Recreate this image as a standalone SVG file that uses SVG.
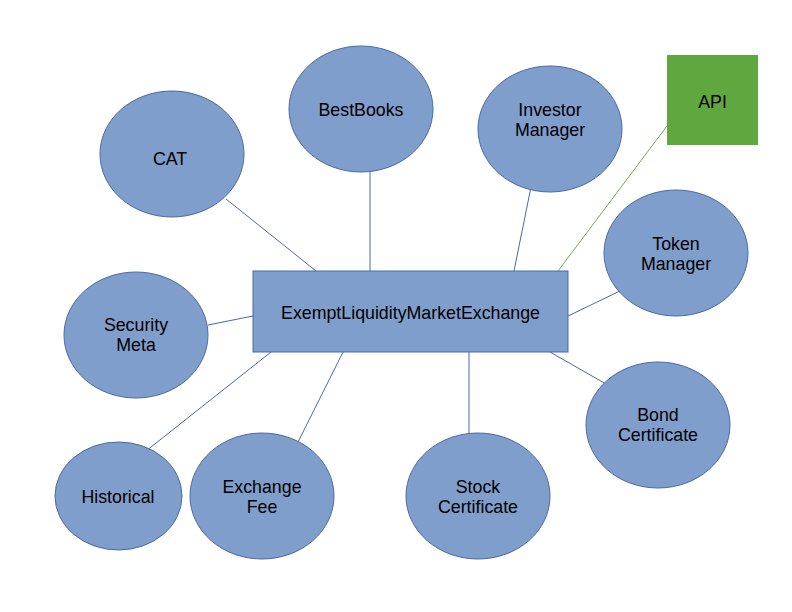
<svg xmlns="http://www.w3.org/2000/svg" width="792" height="612" viewBox="0 0 792 612">
<style>
.n{fill:#7f9ecb;stroke:#4a6aa5;stroke-width:1}
.t{font-family:"Liberation Sans",Arial,sans-serif;font-size:17.8px;fill:#000;text-anchor:middle}
.c{stroke:#4a6aa5;stroke-width:1;fill:none}
.g{stroke:#6ab04a;stroke-width:1;fill:none}
</style>
<rect width="792" height="612" fill="#fff"/>
<g id="connectors">
<line class="c" x1="226" y1="199" x2="316" y2="271"/>
<line class="c" x1="370" y1="172" x2="370" y2="271"/>
<line class="c" x1="532" y1="182" x2="514" y2="271"/>
<line class="g" x1="667" y1="126" x2="558" y2="271"/>
<line class="c" x1="622" y1="290" x2="568" y2="316"/>
<line class="c" x1="208" y1="325" x2="253" y2="316"/>
<line class="c" x1="146" y1="451" x2="271" y2="352"/>
<line class="c" x1="298" y1="442" x2="343" y2="352"/>
<line class="c" x1="469" y1="352" x2="469" y2="451"/>
<line class="c" x1="550" y1="352" x2="613" y2="388"/>
</g>
<g id="exchange">
<rect class="n" x="253" y="271" width="315" height="81"/>
<text class="t" x="410.5" y="319">ExemptLiquidityMarketExchange</text>
</g>
<g id="api">
<rect x="667" y="55" width="91" height="90" fill="#5fa83f"/>
<text class="t" x="712.5" y="108">API</text>
</g>
<g id="cat">
<ellipse class="n" cx="172" cy="154" rx="72" ry="63"/>
<text class="t" x="170" y="165">CAT</text>
</g>
<g id="bestbooks">
<ellipse class="n" cx="361" cy="109" rx="72" ry="63"/>
<text class="t" x="361" y="116">BestBooks</text>
</g>
<g id="investor">
<ellipse class="n" cx="550" cy="129" rx="72" ry="63"/>
<text class="t" x="550" y="116">Investor</text>
<text class="t" x="550" y="136">Manager</text>
</g>
<g id="token">
<ellipse class="n" cx="676" cy="253" rx="72" ry="63"/>
<text class="t" x="676" y="250">Token</text>
<text class="t" x="676" y="270">Manager</text>
</g>
<g id="security">
<ellipse class="n" cx="136" cy="335" rx="72" ry="63"/>
<text class="t" x="136" y="331">Security</text>
<text class="t" x="136" y="351">Meta</text>
</g>
<g id="bond">
<ellipse class="n" cx="658" cy="425" rx="72" ry="63"/>
<text class="t" x="658" y="421">Bond</text>
<text class="t" x="658" y="441">Certificate</text>
</g>
<g id="historical">
<ellipse class="n" cx="118.5" cy="496" rx="63.5" ry="54"/>
<text class="t" x="118" y="503">Historical</text>
</g>
<g id="exchangefee">
<ellipse class="n" cx="262" cy="496" rx="72" ry="63"/>
<text class="t" x="262" y="493">Exchange</text>
<text class="t" x="262" y="513">Fee</text>
</g>
<g id="stock">
<ellipse class="n" cx="478" cy="496" rx="72" ry="63"/>
<text class="t" x="478" y="493">Stock</text>
<text class="t" x="478" y="513">Certificate</text>
</g>
</svg>
